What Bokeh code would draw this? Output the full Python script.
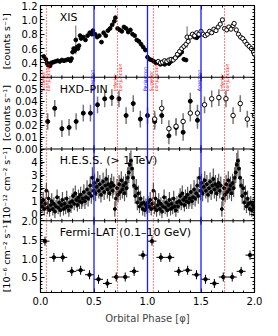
import numpy as np
from bokeh.plotting import figure
from bokeh.layouts import row
from bokeh.models import (Range1d, LinearAxis, FixedTicker, Span, Label, CustomLabelingPolicy,
                          PrintfTickFormatter)
from bokeh.embed import file_html
from bokeh.resources import INLINE
from bokeh.core.properties import value

# ---------------- data ----------------
# orbital events (phase)
blue_events = [0.5, 1.0, 1.5]
red_events = [0.055, 0.72, 1.055, 1.72]
event_text_x = [0.055, 0.485, 0.72, 0.985, 1.065, 1.485, 1.72]
event_text = ["Superior\nconjunction", "Apastron", "Inferior\nconjunction", "Periastron",
              "Superior\nconjunction", "Apastron", "Inferior\nconjunction"]
event_color = ["red", "blue", "red", "blue", "red", "blue", "red"]

# XIS (filled: first pass, open: second pass)
xis_f_phase = [0.03, 0.05, 0.06, 0.07, 0.08, 0.09, 0.10, 0.12, 0.14, 0.16, 0.18, 0.20, 0.22, 0.24,
               0.26, 0.28, 0.29, 0.30, 0.31, 0.32, 0.33, 0.34, 0.35, 0.36, 0.37, 0.38, 0.40, 0.42,
               0.44, 0.46, 0.48, 0.49, 0.51, 0.53, 0.55, 0.57, 0.59, 0.61, 0.63, 0.65, 0.67, 0.69,
               0.70, 0.72, 0.74, 0.76, 0.78, 0.80, 0.82, 0.84, 0.86, 0.88, 0.90, 0.92, 0.94, 0.96,
               0.98, 1.00, 1.02, 1.04, 1.06, 1.08, 1.10, 1.12, 1.14, 1.16, 1.18, 1.20, 1.22, 1.24,
               1.26, 1.28, 1.30, 1.32, 1.34, 1.36, 1.44, 1.46, 1.48]
xis_f_rate = [0.49, 0.45, 0.40, 0.37, 0.38, 0.36, 0.40, 0.41, 0.42, 0.43, 0.42, 0.44, 0.43, 0.44,
              0.45, 0.43, 0.46, 0.55, 0.60, 0.57, 0.72, 0.62, 0.60, 0.64, 0.78, 0.74, 0.76, 0.72,
              0.78, 0.82, 0.80, 0.85, 0.80, 0.76, 0.78, 0.69, 0.82, 0.78, 0.85, 0.88, 0.93, 0.98,
              1.03, 0.88, 0.86, 0.84, 0.90, 0.88, 0.83, 0.86, 0.80, 0.78, 0.72, 0.70, 0.66, 0.62,
              0.58, 0.48, 0.45, 0.44, 0.42, 0.40, 0.40, 0.38, 0.39, 0.38, 0.40, 0.39, 0.42, 0.45,
              0.47, 0.50, 0.52, 0.55, 0.45, 0.44, 0.76, 0.75, 0.78]
xis_f_err = [0.02] * 20 + [0.2] + [0.02] * 58
xis_o_phase = [1.10, 1.12, 1.14, 1.16, 1.18, 1.20, 1.22, 1.24, 1.26, 1.28, 1.30, 1.32, 1.34, 1.36,
               1.37, 1.38, 1.40, 1.42, 1.44, 1.46, 1.48, 1.50, 1.52, 1.54, 1.56, 1.58, 1.60, 1.62,
               1.64, 1.66, 1.68, 1.70, 1.72, 1.74, 1.76, 1.78, 1.80, 1.81, 1.83, 1.85, 1.87, 1.89,
               1.91, 1.93, 1.95, 1.97, 1.99, 2.00]
xis_o_rate = [0.42, 0.40, 0.41, 0.43, 0.42, 0.44, 0.45, 0.44, 0.47, 0.52, 0.56, 0.60, 0.63, 0.66,
              0.76, 0.70, 0.76, 0.80, 0.78, 0.82, 0.80, 0.84, 0.80, 0.78, 0.80, 0.84, 0.82, 0.87,
              0.85, 0.90, 0.94, 1.00, 0.88, 0.86, 0.90, 0.87, 0.92, 0.95, 0.86, 0.80, 0.76, 0.74,
              0.70, 0.66, 0.63, 0.60, 0.55, 0.52]
xis_o_err = [0.02] * 14 + [0.15] + [0.02] * 33

# HXD-PIN
pin_f_phase = [0.067, 0.133, 0.200, 0.267, 0.333, 0.400, 0.467, 0.533, 0.600, 0.667, 0.733,
               0.800, 0.867, 0.933, 1.000, 1.067, 1.133, 1.200, 1.267, 1.333, 1.400, 1.467]
pin_f_rate = [0.023, 0.034, 0.017, 0.018, 0.023, 0.030, 0.030, 0.037, 0.042, 0.043, 0.042,
              0.028, 0.038, 0.025, 0.028, 0.023, 0.028, 0.011, 0.018, 0.014, 0.040, 0.024]
pin_o_phase = [1.067, 1.133, 1.200, 1.267, 1.333, 1.400, 1.467, 1.533, 1.600, 1.667, 1.733,
               1.800, 1.867, 1.933, 2.000]
pin_o_rate = [0.025, 0.034, 0.017, 0.019, 0.023, 0.030, 0.030, 0.037, 0.042, 0.043, 0.042,
              0.028, 0.038, 0.025, 0.028]
pin_err = 0.007

# H.E.S.S. (> 1 TeV), phase folded (shown twice)
hess_phase = [0.005, 0.015, 0.025, 0.035, 0.045, 0.055, 0.065, 0.075, 0.085, 0.095,
              0.105, 0.115, 0.125, 0.135, 0.145, 0.155, 0.165, 0.175, 0.185, 0.195,
              0.205, 0.215, 0.225, 0.235, 0.245, 0.255, 0.265, 0.275, 0.285, 0.295,
              0.305, 0.315, 0.325, 0.335, 0.345, 0.355, 0.365, 0.375, 0.385, 0.395,
              0.405, 0.415, 0.425, 0.435, 0.445, 0.455, 0.465, 0.475, 0.485, 0.495,
              0.505, 0.515, 0.525, 0.535, 0.545, 0.555, 0.565, 0.575, 0.585, 0.595,
              0.605, 0.615, 0.625, 0.635, 0.645, 0.655, 0.665, 0.675, 0.685, 0.695,
              0.705, 0.715, 0.725, 0.735, 0.745, 0.755, 0.765, 0.775, 0.785, 0.795,
              0.805, 0.815, 0.825, 0.835, 0.845, 0.855, 0.865, 0.875, 0.885, 0.895,
              0.905, 0.915, 0.925, 0.935, 0.945, 0.955, 0.965, 0.975, 0.985, 0.995]
hess_flux = [0.9, 0.6, 1.1, 0.4, 0.8, 1.8, 0.5, 1.2, 0.3, 0.7,
             1.0, 0.4, 0.8, 0.2, 0.6, 1.3, 0.5, 0.9, 0.3, 0.7,
             1.1, 0.4, 0.8, 0.5, 1.2, 0.6, 0.3, 0.9, 0.6, 1.0,
             1.4, 0.8, 1.6, 1.1, 0.7, 1.3, 1.0, 1.5, 0.9, 1.2,
             1.7, 1.0, 1.3, 1.9, 1.2, 1.6, 2.2, 1.4, 2.8, 1.8,
             2.4, 1.6, 2.1, 2.6, 1.8, 2.3, 1.5, 2.0, 2.5, 1.7,
             2.2, 2.7, 1.9, 2.3, 1.6, 2.1, 2.4, 1.8, 2.2, 0.4,
             1.2, 2.0, 1.5, 2.3, 1.7, 2.6, 1.9, 2.2, 1.6, 2.4,
             2.0, 2.8, 3.2, 3.8, 4.1, 3.5, 2.8, 2.2, 1.4, 2.0,
             0.9, 1.6, 0.6, 1.2, 0.8, 0.4, 0.9, 0.3, 0.7, 0.5]
hess_err = [0.5, 0.5, 0.6, 0.5, 0.5, 0.6, 0.5, 0.6, 0.5, 0.5,
            0.6, 0.5, 0.5, 0.5, 0.5, 0.6, 0.5, 0.5, 0.5, 0.5,
            0.6, 0.5, 0.5, 0.5, 0.6, 0.5, 0.5, 0.5, 0.5, 0.6,
            0.6, 0.5, 0.6, 0.6, 0.5, 0.6, 0.6, 0.6, 0.5, 0.6,
            0.6, 0.6, 0.6, 0.7, 0.6, 0.6, 0.7, 0.6, 0.8, 0.7,
            0.7, 0.6, 0.7, 0.7, 0.6, 0.7, 0.6, 0.7, 0.7, 0.6,
            0.7, 0.8, 0.7, 0.7, 0.6, 0.7, 0.7, 0.6, 0.7, 0.6,
            0.6, 0.7, 0.6, 0.7, 0.6, 0.7, 0.7, 0.7, 0.6, 0.7,
            0.7, 0.8, 0.8, 0.9, 0.8, 0.8, 0.8, 0.7, 0.6, 0.7,
            0.6, 0.6, 0.5, 0.6, 0.5, 0.5, 0.5, 0.5, 0.5, 0.5]

# Fermi-LAT (0.1-10 GeV), phase folded (shown twice)
lat_phase = [0.042, 0.125, 0.208, 0.292, 0.375, 0.458, 0.542, 0.625, 0.708, 0.792, 0.875, 0.958]
lat_flux = [1.46, 1.03, 1.03, 0.66, 0.69, 0.57, 0.45, 0.34, 0.51, 0.51, 0.66, 1.09]
lat_halfwidth = 0.042
lat_err = 0.12

# panels: name, y limits, major ticks, minor step, label format, unit label, panel title
x_ticks = [0.0, 0.5, 1.0, 1.5, 2.0]
panels = [
    ("xis", (0.2, 1.2), [0.2, 0.4, 0.6, 0.8, 1.0, 1.2], 0.05, "%.1f",
     "[counts s\u207b\u00b9]", "XIS"),
    ("pin", (0.0, 0.06), [0.00, 0.01, 0.02, 0.03, 0.04, 0.05], 0.002, "%.2f",
     "[counts s\u207b\u00b9]", "HXD\u2013PIN"),
    ("hess", (-0.5, 5.0), [0, 1, 2, 3, 4], 0.2, "%d",
     "[10\u207b\u00b9\u00b2 cm\u207b\u00b2 s\u207b\u00b9]", "H.E.S.S. (> 1 TeV)"),
    ("lat", (0.1, 2.0), [0.5, 1.0, 1.5, 2.0], 0.1, "%.1f",
     "[10\u207b\u2076 cm\u207b\u00b2 s\u207b\u00b9]", "Fermi\u2013LAT (0.1\u201310 GeV)"),
]

# ---------------- layout / styling ----------------
FONT = "DejaVu Sans"
N = len(panels)
LW = 12                      # width of the strip that carries the rotated unit labels
W, H = 262 - LW, 326
TOP, BOTTOM, LEFT, RIGHT = 5, 33, 37 - LW, 8
slot_px = (H - TOP - BOTTOM) / N

p = figure(width=W, height=H, x_range=Range1d(0, 2), y_range=Range1d(0, N),
           output_backend="svg", toolbar_location=None,
           x_axis_location=None, y_axis_location=None,
           min_border_left=LEFT, min_border_right=RIGHT,
           min_border_top=TOP, min_border_bottom=BOTTOM)
p.outline_line_color = "black"
p.outline_line_width = 1.2
p.background_fill_color = "white"
for g in p.grid:
    g.visible = False

# each panel gets its own y scale occupying one slot of the frame
maj_pos, min_pos, overrides = [], [], {}
for k, (name, (a, b), ticks, mstep, fmt, unit, ttl) in enumerate(panels):
    span = b - a
    base = N - 1 - k
    p.extra_y_ranges[name] = Range1d(a - base * span, b + k * span)
    for t in ticks:
        pos = base + (t - a) / span
        maj_pos.append(pos)
        overrides[pos] = fmt % t
    for t in np.arange(a, b + 1e-9, mstep):
        min_pos.append(base + (t - a) / span)

yt = FixedTicker(ticks=maj_pos, minor_ticks=min_pos)
xt = FixedTicker(ticks=x_ticks, minor_ticks=list(np.round(np.arange(0, 2.001, 0.1), 2)))
HIDE = "for (const i of Array.from(indices)) { indices.unset(i) }\nreturn indices"


def style_axis(ax, labels=True):
    ax.major_tick_in = 4
    ax.major_tick_out = 0
    ax.minor_tick_in = 2
    ax.minor_tick_out = 0
    ax.axis_line_color = None
    ax.major_tick_line_color = "black"
    ax.minor_tick_line_color = "black"
    ax.major_label_text_font = FONT
    ax.major_label_text_color = "black"
    if labels:
        ax.major_label_text_font_size = "10px"
        ax.major_label_standoff = 3
    else:
        ax.major_label_policy = CustomLabelingPolicy(code=HIDE)
        ax.major_label_text_font_size = "1px"
        ax.major_label_standoff = 0


ya = LinearAxis(ticker=yt, major_label_overrides=overrides)
style_axis(ya)
p.add_layout(ya, "left")
yr_ax = LinearAxis(ticker=yt)
style_axis(yr_ax, labels=False)
p.add_layout(yr_ax, "right")
xa_top = LinearAxis(ticker=xt)
style_axis(xa_top, labels=False)
p.add_layout(xa_top, "above")
xa = LinearAxis(ticker=xt, formatter=PrintfTickFormatter(format="%.1f"))
style_axis(xa)
xa.major_label_standoff = 4
xa.axis_label = "Orbital Phase [\u03c6]"
xa.axis_label_text_font = FONT
xa.axis_label_text_font_size = "10px"
xa.axis_label_text_font_style = "normal"
xa.axis_label_standoff = 5
p.add_layout(xa, "below")

# panel boundaries with inward ticks on both sides
bounds = list(range(1, N))
for s in bounds:
    p.add_layout(Span(location=s, dimension="width", line_color="black", line_width=1.2))
maj_len = 4 / slot_px
min_len = 2 / slot_px
bx = [t for s in bounds for t in x_ticks]
by = [s for s in bounds for t in x_ticks]
p.segment(bx, np.array(by) - maj_len, bx, np.array(by) + maj_len, line_color="black", line_width=1)
mx_list = [t for t in np.round(np.arange(0, 2.001, 0.1), 2)]
mbx = [t for s in bounds for t in mx_list]
mby = [s for s in bounds for t in mx_list]
p.segment(mbx, np.array(mby) - min_len, mbx, np.array(mby) + min_len, line_color="black", line_width=1)

# orbital event lines
for e in blue_events:
    p.add_layout(Span(location=e, dimension="height", line_color="#1a1aff", line_width=1.3))
for e in red_events:
    p.add_layout(Span(location=e, dimension="height", line_color="red", line_width=1, line_dash="1 2"))

# panel titles
for k, (name, lim, ticks, mstep, fmt, unit, ttl) in enumerate(panels):
    base = N - 1 - k
    p.add_layout(Label(x=0.18, y=base + 1 - 12 / slot_px, text=ttl, text_font=FONT,
                       text_font_size="11px", text_baseline="middle", text_color="black"))

# ---------------- XIS ----------------
xf = np.array(xis_f_phase); yf = np.array(xis_f_rate); ef = np.array(xis_f_err)
xo = np.array(xis_o_phase); yo = np.array(xis_o_rate); eo = np.array(xis_o_err)
p.segment(xf, yf - ef, xf, yf + ef, line_color="#666666", line_width=1, y_range_name="xis")
p.segment(xo, yo - eo, xo, yo + eo, line_color="#666666", line_width=1, y_range_name="xis")
p.scatter(xf, yf, marker="circle", size=3.8, fill_color="black", line_color="black", y_range_name="xis")
p.scatter(xo, yo, marker="circle", size=4.2, fill_color="white", line_color="black", line_width=1,
          y_range_name="xis")

# event labels straddling the XIS / HXD boundary
p.text(x=event_text_x, y=[N - 1 - 14 / slot_px] * len(event_text_x), text=event_text,
       angle=np.pi / 2, text_color=event_color, text_font=value(FONT), text_font_size="4.8px",
       text_align="left", text_baseline="middle", text_line_height=1.0)

# ---------------- HXD-PIN ----------------
xpf = np.array(pin_f_phase); ypf = np.array(pin_f_rate)
xpo = np.array(pin_o_phase); ypo = np.array(pin_o_rate)
p.segment(xpf, ypf - pin_err, xpf, ypf + pin_err, line_color="#777777", line_width=1.5, y_range_name="pin")
p.segment(xpo, ypo - pin_err, xpo, ypo + pin_err, line_color="#777777", line_width=1.5, y_range_name="pin")
p.scatter(xpf, ypf, marker="circle", size=4, fill_color="black", line_color="black", y_range_name="pin")
p.scatter(xpo, ypo, marker="circle", size=4.5, fill_color="white", line_color="black", line_width=1,
          y_range_name="pin")

# ---------------- H.E.S.S. ----------------
hx = np.array(hess_phase); hy = np.array(hess_flux); he = np.array(hess_err)
for off in (0.0, 1.0):
    p.segment(hx + off, hy - he, hx + off, hy + he, line_color="#555555", line_width=1.2,
              y_range_name="hess")
    p.scatter(hx + off, hy, marker="circle", size=3, fill_color="black", line_color="black",
              y_range_name="hess")

# ---------------- Fermi-LAT ----------------
lx = np.array(lat_phase); ly = np.array(lat_flux)
for off in (0.0, 1.0):
    p.segment(lx + off - lat_halfwidth, ly, lx + off + lat_halfwidth, ly, line_color="black",
              line_width=1, y_range_name="lat")
    p.segment(lx + off, ly - lat_err, lx + off, ly + lat_err, line_color="black", line_width=1,
              y_range_name="lat")
    p.scatter(lx + off, ly, marker="circle", size=3.5, fill_color="black", line_color="black",
              y_range_name="lat")

# ---------------- strip with rotated unit labels ----------------
lab = figure(width=LW, height=H, x_range=Range1d(0, 1), y_range=Range1d(0, N),
             output_backend="svg", toolbar_location=None,
             x_axis_location=None, y_axis_location=None,
             min_border_left=0, min_border_right=0,
             min_border_top=TOP, min_border_bottom=BOTTOM)
lab.outline_line_color = None
for g in lab.grid:
    g.visible = False
units = [pn[5] for pn in panels]
centres = [N - 1 - k + 0.5 for k in range(N)]
lab.text(x=[0.5] * N, y=centres, text=units, angle=np.pi / 2, text_font=value(FONT),
         text_font_size="9.5px", text_align="center", text_baseline="middle", text_color="black")

open("out.html", "w").write(file_html(row(lab, p), INLINE))
